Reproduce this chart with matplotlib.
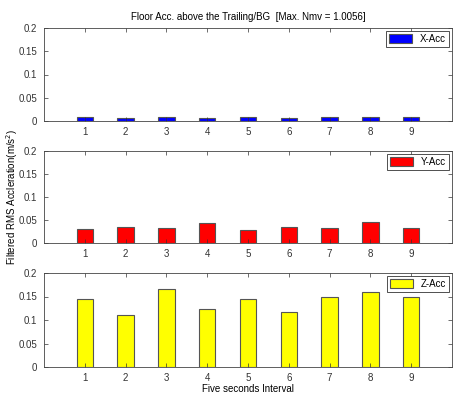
import matplotlib
matplotlib.use('Agg')
import matplotlib.pyplot as plt
import numpy as np

intervals = [1, 2, 3, 4, 5, 6, 7, 8, 9]
x_acc = [0.008, 0.006, 0.009, 0.007, 0.008, 0.007, 0.009, 0.009, 0.009]
y_acc = [0.031, 0.0345, 0.033, 0.043, 0.029, 0.0345, 0.0317, 0.046, 0.032]
z_acc = [0.144, 0.110, 0.166, 0.123, 0.144, 0.118, 0.149, 0.159, 0.149]
series = [("X-Acc", x_acc, "#0000ff"), ("Y-Acc", y_acc, "#ff0000"), ("Z-Acc", z_acc, "#ffff00")]
yticks = [0, 0.05, 0.1, 0.15, 0.2]
ytick_labels = ["0", "0.05", "0.1", "0.15", "0.2"]

plt.rcParams['font.family'] = ['Liberation Sans', 'DejaVu Sans']
fig = plt.figure(figsize=(4.53, 3.94), dpi=100)

# axes boxes in pixels: (top, bottom)
boxes = [(28, 121), (151, 243), (273, 367)]
W, H = 453., 394.
left, right = 44 / W, 452 / W

axes = []
for (top, bot), (name, vals, col) in zip(boxes, series):
    ax = fig.add_axes([left, 1 - bot / H, right - left, (bot - top) / H])
    ax.bar(intervals, vals, width=0.4, color=col, edgecolor='#555555', linewidth=0.8, label=name)
    ax.set_xlim(0, 10)
    ax.set_ylim(0, 0.2)
    ax.set_xticks(intervals)
    ax.set_yticks(yticks)
    ax.set_yticklabels(ytick_labels)
    ax.tick_params(direction='in', top=True, right=True, labelsize=7, length=3, width=0.5, colors='#333333', pad=4)
    ax.tick_params(axis='y', pad=5)
    for s in ax.spines.values():
        s.set_linewidth(0.6)
        s.set_color('#444444')
    leg = ax.legend(loc='upper right', fontsize=7, fancybox=False, framealpha=1, edgecolor='#333333',
                    handlelength=2.4, handleheight=0.9, borderpad=0.3, borderaxespad=0.3)
    leg.get_frame().set_linewidth(0.6)
    axes.append(ax)

axes[0].set_title("Floor Acc. above the Trailing/BG  [Max. Nmv = 1.0056]", fontsize=7, pad=6)
axes[2].set_xlabel("Five seconds Interval", fontsize=7, labelpad=1)
fig.text(12 / W, 0.5, "Filtered RMS Accleration(m/s$^2$)", rotation=90, fontsize=7, va='center', ha='center')

fig.savefig("out.png", dpi=100)
